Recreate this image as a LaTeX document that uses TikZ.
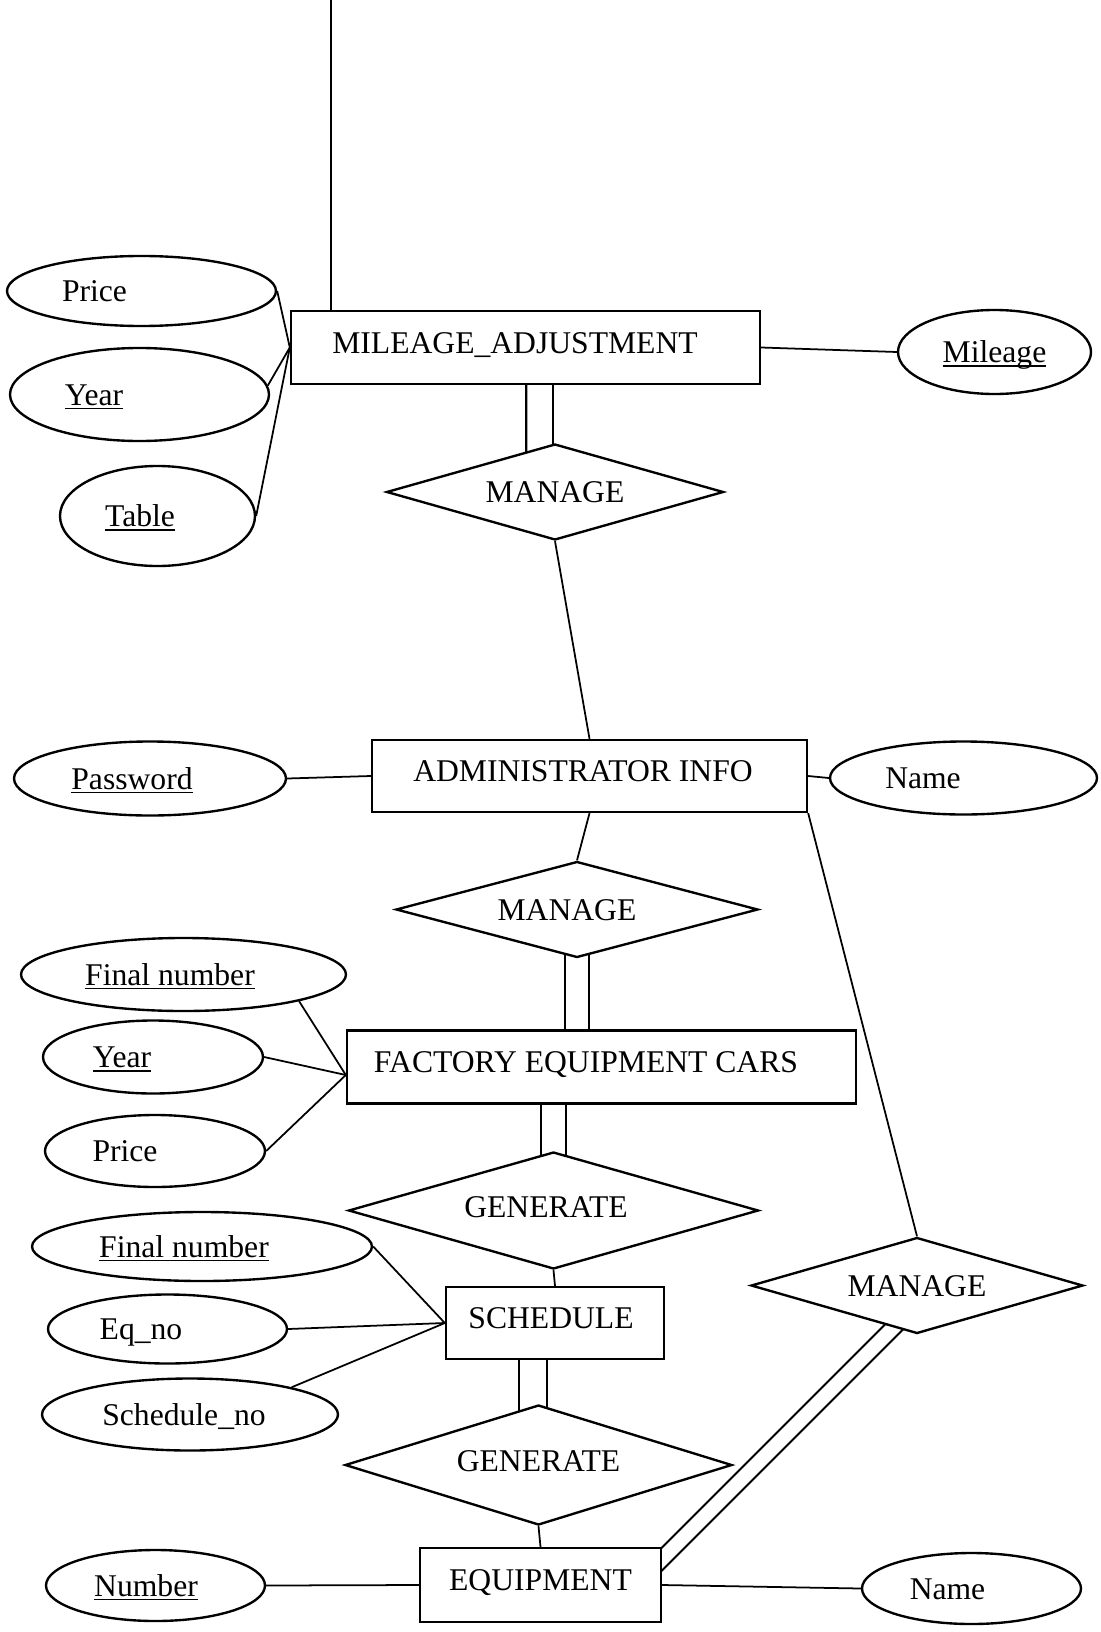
\documentclass[tikz,border=0pt]{standalone}
\usepackage{fontspec}
\setmainfont{Liberation Serif}
\usetikzlibrary{shapes.geometric,calc}
\pgfdeclarelayer{paper}
\pgfdeclarelayer{links}
\pgfsetlayers{paper,links,main}
% underline set just below the baseline, whatever the descenders
\newsavebox\ulbox
\newcommand\undl[1]{\sbox\ulbox{#1}\rlap{\vrule width\wd\ulbox height -1.5pt depth 2.5pt}\usebox\ulbox}
% text followed by blank space, so it sits left of the shape's centre
\newcommand\padr[2]{#2\hspace*{#1}}

\tikzset{
  every node/.style={font=\fontsize{18}{21}\selectfont, inner sep=0pt, line width=1.35pt},
  ent/.style 2 args={draw, fill=white, rectangle,
    minimum width=#1*0.02cm, minimum height=#2*0.02cm,
    text height=12pt, text depth=5.5pt},
  rel/.style 2 args={draw, fill=white, diamond, aspect=3.5,
    minimum width=#1*0.02cm, minimum height=#2*0.02cm,
    text height=12pt, text depth=0pt},
  attr/.style 2 args={draw, fill=white, ellipse,
    minimum width=#1*0.02cm, minimum height=#2*0.02cm,
    text height=12pt, text depth=0pt},
  link/.style={line width=1pt},
  hair/.style={line width=0.6pt},
  dbl/.style={line width=1.2pt, double, double distance=#1}
}

\begin{document}
\begin{tikzpicture}[x=0.02cm, y=-0.02cm]
\useasboundingbox (0,0) rectangle (1100,1632);
\begin{pgfonlayer}{paper}
  \fill[white] (0,0) rectangle (1100,1632);
\end{pgfonlayer}

% entities
\node[ent={469}{73}] (mil) at (525.5,347.5) {\padr{0.42cm}{MILEAGE\_ADJUSTMENT}};
\node[ent={435}{72}] (adm) at (589.5,776) {\padr{0.26cm}{ADMINISTRATOR INFO}};
\node[ent={509}{73}] (fec) at (601.5,1067) {\padr{0.62cm}{FACTORY EQUIPMENT CARS}};
\node[ent={218}{72}] (sch) at (555,1323) {\padr{0.16cm}{SCHEDULE}};
\node[ent={241}{74}] (equ) at (540.5,1585) {EQUIPMENT};

% relationships
\node[rel={337}{96}] (m1) at (555,492) {MANAGE};
\node[rel={362}{96}] (m2) at (577,909.5) {\padr{0.40cm}{MANAGE}};
\node[rel={410}{117}, text depth=4.5pt] (g1) at (553.5,1210.5) {\padr{0.30cm}{GENERATE}};
\node[rel={387}{120}, text depth=4.5pt] (g2) at (538.5,1465) {GENERATE};
\node[rel={332}{96}] (m3) at (917,1285.5) {MANAGE};

% attributes
\node[attr={269}{70}] (p1) at (141.5,291) {\padr{1.88cm}{Price}};
\node[attr={259}{93}] (y1) at (139.5,394.5) {\padr{1.82cm}{\undl{Year}}};
\node[attr={195}{100}] (tb) at (157.5,516) {\padr{0.70cm}{\undl{Table}}};
\node[attr={193}{84}] (ml) at (994.5,352) {\undl{Mileage}};
\node[attr={272}{74}] (pw) at (150,778.5) {\padr{0.72cm}{\undl{Password}}};
\node[attr={267}{73}] (n1) at (963.5,778) {\padr{1.62cm}{Name}};
\node[attr={325}{73}] (f1) at (183.5,974.5) {\padr{0.54cm}{\undl{Final number}}};
\node[attr={220}{73}] (y2) at (153,1057) {\padr{1.24cm}{\undl{Year}}};
\node[attr={220}{72}] (p2) at (155,1151) {\padr{1.20cm}{Price}};
\node[attr={340}{69}] (f2) at (202,1246.5) {\padr{0.72cm}{\undl{Final number}}};
\node[attr={239}{69}] (eq) at (167.5,1329) {\padr{1.06cm}{Eq\_no}};
\node[attr={296}{72}] (sn) at (190,1414.5) {\padr{0.24cm}{Schedule\_no}};
\node[attr={219}{71}] (nb) at (155.5,1585.5) {\padr{0.38cm}{\undl{Number}}};
\node[attr={219}{71}] (n2) at (971.5,1588.5) {\padr{0.96cm}{Name}};

% connectors, kept under the white-filled shapes
\begin{pgfonlayer}{links}
  \coordinate (top) at (331,0);
  \draw[hair] (top) -- (top |- mil.north);

  \draw[link] (p1.east) -- (mil.west);
  \draw[link] (y1.4) -- (mil.west);
  \draw[link] (tb.east) -- (mil.west);
  \draw[link] (mil.east) -- (ml.west);
  \draw[dbl=0.49cm] ($(mil.center)+(14,0)$) -- ($(m1.center)+(-15.5,0)$);

  \draw[link] (m1.south) -- (adm.north);
  \draw[link] (pw.east) -- (adm.west);
  \draw[link] (adm.east) -- (n1.west);
  \draw[link] (adm.south) -- (m2.north);
  \draw[link] (adm.south east) -- (m3.north);

  \draw[dbl=0.43cm] (m2.center) -- (m2.center |- fec.center);
  \coordinate (fecj) at ($(fec.west)+(0,8)$);
  \draw[link] (f1.-13) -- (fecj);
  \draw[link] (y2.east) -- (fecj);
  \draw[link] (p2.east) -- (fecj);
  \draw[dbl=0.45cm] (g1.center |- fec.center) -- (g1.center);

  \draw[link] (g1.south) -- (sch.north);
  \draw[link] (f2.east) -- (sch.west);
  \draw[link] (eq.east) -- (sch.west);
  \draw[link] (sn.15) -- (sch.west);
  \draw[dbl=0.51cm] ($(sch.center)+(-22,0)$) -- ($(g2.center)+(-5.5,0)$);

  \draw[link] (g2.south) -- (equ.north);
  \draw[link] (nb.east) -- (equ.west);
  \draw[link] (equ.east) -- (n2.west);
  \draw[dbl=0.28cm] ($(m3.center)+(-11,29.5)$) -- ($(equ.center)+(100.5,-5)$);
\end{pgfonlayer}
\end{tikzpicture}
\end{document}
